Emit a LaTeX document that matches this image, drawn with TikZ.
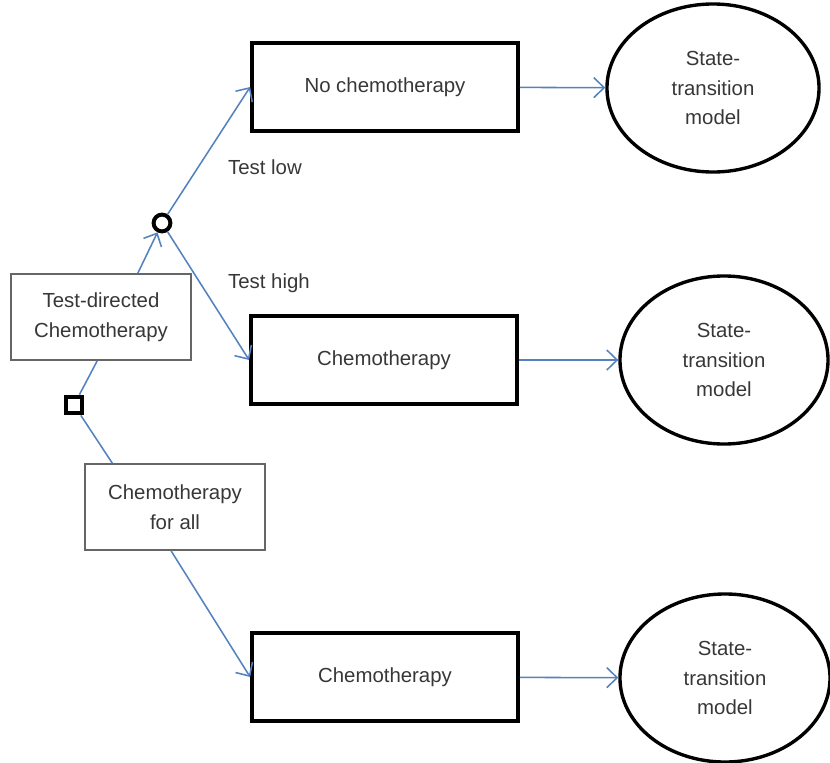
\documentclass[tikz,border=0pt]{standalone}
\usepackage{fontspec}
\setmainfont{Liberation Sans}
\usetikzlibrary{shapes.geometric,arrows.meta}
\definecolor{linkblue}{RGB}{84,130,190}
\definecolor{textgray}{RGB}{55,55,55}

\begin{document}
\begin{tikzpicture}[x=0.025cm,y=-0.025cm,
    font=\fontsize{14.5}{21}\selectfont,text=textgray,
    >={Straight Barb[length=2.6mm,width=5mm]},
    opt/.style={draw=gray!80!black,line width=1.3pt,fill=white,align=center,
      minimum width=4.5cm,minimum height=2.15cm},
    arm/.style={draw,line width=2.6pt,minimum width=6.65cm,minimum height=2.2cm},
    stm/.style={draw,ellipse,line width=2.4pt,align=center,inner sep=0pt,
      minimum width=5.25cm,minimum height=4.2cm},
    link/.style={draw=linkblue,line width=1.1pt}]
      \useasboundingbox (0,0) rectangle (830,763) ;
      \node[opt] (testdir) at (101,317) {Test-directed\\Chemotherapy} ;
      \node[opt] (forall) at (175,507) {Chemotherapy\\for all} ;
      \node[draw,line width=2.8pt,minimum size=0.42cm,inner sep=0pt] (dec) at (74,405) {} ;
      \node[draw,circle,line width=2.8pt,minimum size=0.42cm,inner sep=0pt] (chance) at (162,223) {} ;
      \node[arm] (nochemo) at (385,87) {No chemotherapy} ;
      \node[arm] (chemomid) at (384,360) {Chemotherapy} ;
      \node[arm] (chemobot) at (385,677) {Chemotherapy} ;
      \node[stm,minimum width=5.3cm] (stm1) at (713,88) {State-\\transition\\model} ;
      \node[stm,minimum width=5.2cm] (stm2) at (724,360) {State-\\transition\\model} ;
      \node[stm] (stm3) at (725,678) {State-\\transition\\model} ;
      \node (low) at (265,167) {Test low} ;
      \node (high) at (269,283) {Test high} ;
      \draw[link] (testdir.-95) -- (dec) ;
      \draw[link] (dec) -- (forall.145) ;
      \draw[link,->] (testdir.50) -- (chance) ;
      \draw[link,->] (chance) -- (nochemo.west) ;
      \draw[link,->] (chance) -- (chemomid.west) ;
      \draw[link,->] (forall.-95) -- (chemobot.west) ;
      \draw[link,->] (nochemo) -- (stm1) ;
      \draw[link,->] (chemomid) -- (stm2) ;
      \draw[link,->] (chemobot) -- (stm3) ;
    \end{tikzpicture}
\end{document}
